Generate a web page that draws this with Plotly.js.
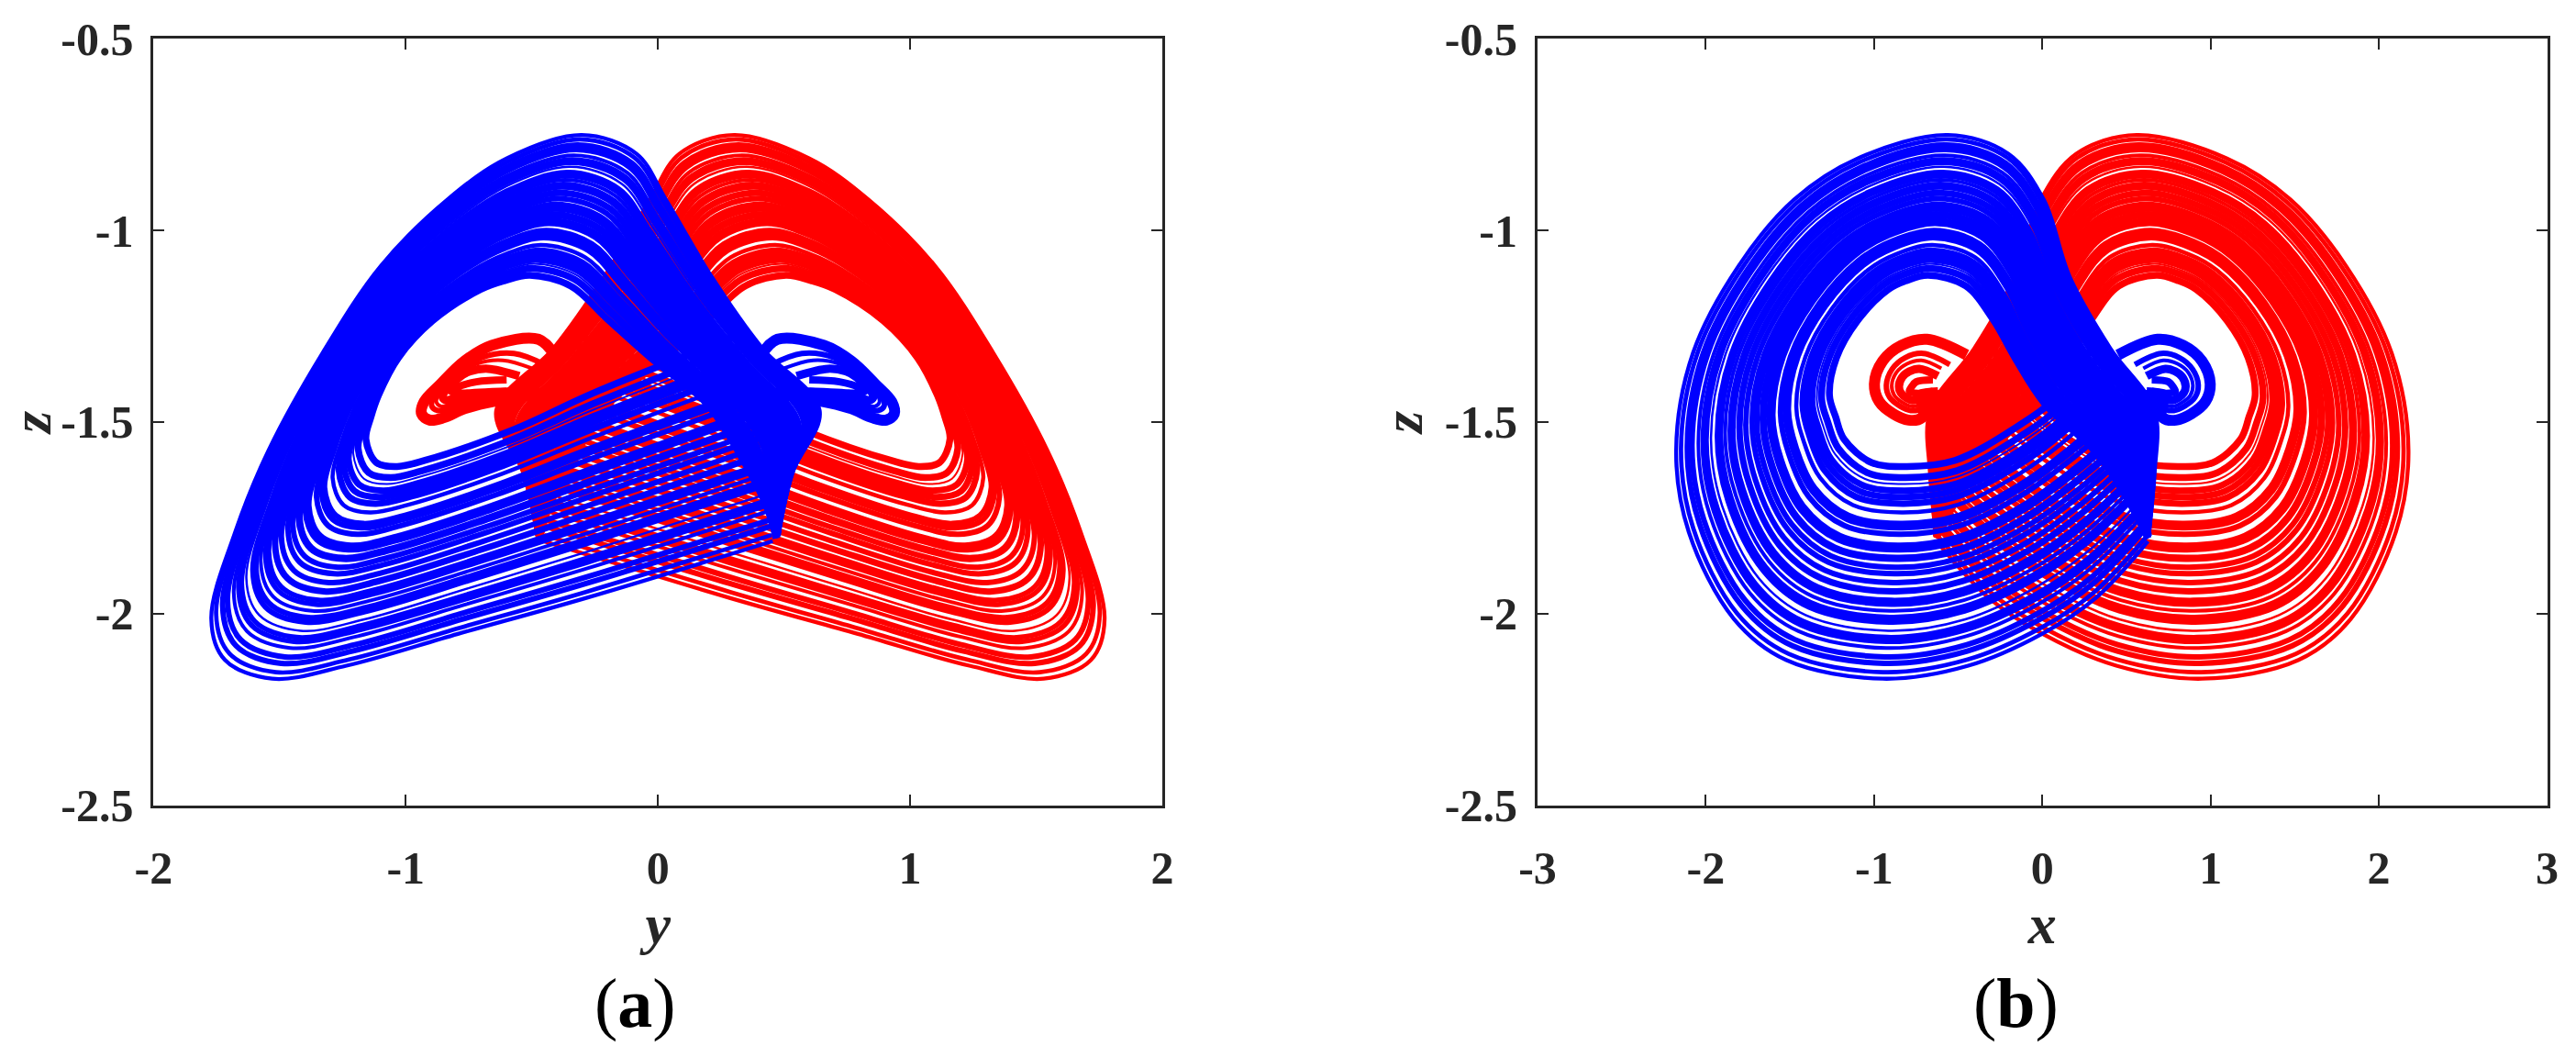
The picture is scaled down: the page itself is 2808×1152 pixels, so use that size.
<!DOCTYPE html>
<html><head><meta charset="utf-8">
<script src="https://cdn.plot.ly/plotly-3.0.1.min.js"></script>
<style>html,body{margin:0;padding:0;background:#fff}#chart{width:2808px;height:1152px}</style>
</head><body><div id="chart"></div>
<script>
// Blue wing strands: y (panel a abscissa), x (panel b abscissa), z (shared ordinate).
const wingY = [
[.455,-.284,-.793,-1.235,-1.530,-1.717,-1.771,-1.676,-1.544,-1.330,-1.098,-.834,-.600,-.302,-.085,.032,.212,.413,.641,.535,.477],
[.451,-.283,-.785,-1.225,-1.515,-1.698,-1.752,-1.660,-1.530,-1.321,-1.092,-.830,-.600,-.308,-.093,.025,.204,.406,.631,.532,.477],
[.446,-.282,-.777,-1.212,-1.494,-1.673,-1.726,-1.638,-1.512,-1.308,-1.083,-.824,-.601,-.317,-.104,.015,.195,.397,.618,.527,.476],
[.442,-.281,-.769,-1.202,-1.479,-1.655,-1.707,-1.621,-1.499,-1.299,-1.076,-.820,-.601,-.323,-.112,.008,.187,.390,.608,.524,.476],
[.437,-.280,-.761,-1.190,-1.458,-1.630,-1.682,-1.599,-1.481,-1.287,-1.069,-.815,-.601,-.332,-.122,-.002,.178,.381,.596,.520,.476],
[.433,-.279,-.753,-1.180,-1.443,-1.612,-1.663,-1.582,-1.467,-1.277,-1.062,-.811,-.602,-.338,-.130,-.009,.170,.374,.586,.517,.476],
[.431,-.279,-.749,-1.174,-1.433,-1.599,-1.651,-1.571,-1.459,-1.271,-1.058,-.808,-.601,-.343,-.136,-.013,.166,.369,.579,.515,.475],
[.427,-.278,-.743,-1.164,-1.417,-1.581,-1.632,-1.554,-1.445,-1.262,-1.052,-.804,-.602,-.349,-.144,-.021,.158,.363,.570,.511,.475],
[.422,-.277,-.733,-1.151,-1.397,-1.556,-1.606,-1.532,-1.427,-1.250,-1.044,-.799,-.601,-.358,-.155,-.030,.149,.353,.557,.507,.475],
[.419,-.276,-.729,-1.144,-1.387,-1.543,-1.594,-1.521,-1.418,-1.243,-1.039,-.796,-.602,-.361,-.160,-.035,.144,.349,.550,.505,.475],
[.416,-.275,-.722,-1.135,-1.371,-1.525,-1.575,-1.504,-1.404,-1.234,-1.033,-.792,-.602,-.368,-.168,-.042,.137,.342,.541,.502,.474],
[.412,-.275,-.715,-1.125,-1.356,-1.506,-1.556,-1.488,-1.391,-1.225,-1.027,-.788,-.602,-.374,-.176,-.049,.129,.335,.531,.499,.474],
[.409,-.274,-.710,-1.118,-1.346,-1.494,-1.543,-1.477,-1.382,-1.219,-1.022,-.785,-.602,-.379,-.182,-.054,.124,.331,.524,.496,.474],
[.404,-.273,-.701,-1.106,-1.325,-1.469,-1.518,-1.454,-1.364,-1.206,-1.014,-.780,-.603,-.387,-.192,-.063,.115,.322,.512,.492,.474],
[.399,-.272,-.692,-1.093,-1.305,-1.444,-1.493,-1.432,-1.346,-1.194,-1.006,-.774,-.603,-.396,-.203,-.073,.105,.312,.499,.488,.473],
[.394,-.271,-.683,-1.080,-1.285,-1.420,-1.467,-1.410,-1.328,-1.182,-.997,-.769,-.604,-.404,-.214,-.082,.095,.303,.486,.484,.473],
[.390,-.270,-.676,-1.070,-1.269,-1.401,-1.448,-1.393,-1.315,-1.172,-.991,-.765,-.603,-.411,-.222,-.089,.088,.296,.476,.480,.473],
[.385,-.269,-.667,-1.057,-1.249,-1.376,-1.423,-1.371,-1.297,-1.160,-.982,-.759,-.604,-.419,-.233,-.099,.078,.287,.463,.476,.473],
[.380,-.268,-.658,-1.044,-1.228,-1.352,-1.398,-1.349,-1.279,-1.148,-.974,-.754,-.604,-.427,-.243,-.108,.069,.278,.450,.472,.472],
[.378,-.267,-.653,-1.038,-1.218,-1.339,-1.385,-1.338,-1.269,-1.141,-.970,-.751,-.604,-.432,-.249,-.113,.064,.274,.444,.470,.472],
[.372,-.266,-.642,-1.023,-1.193,-1.308,-1.354,-1.310,-1.247,-1.126,-.960,-.745,-.604,-.442,-.262,-.125,.052,.262,.428,.464,.472],
[.368,-.265,-.634,-1.013,-1.177,-1.290,-1.335,-1.293,-1.234,-1.117,-.953,-.741,-.605,-.449,-.270,-.132,.045,.255,.418,.461,.471],
[.365,-.265,-.630,-1.006,-1.167,-1.277,-1.322,-1.282,-1.225,-1.111,-.948,-.738,-.605,-.453,-.276,-.137,.040,.251,.411,.459,.471],
[.359,-.263,-.618,-.990,-1.142,-1.246,-1.290,-1.255,-1.202,-1.095,-.938,-.731,-.605,-.464,-.289,-.148,.028,.239,.395,.454,.471],
[.354,-.262,-.610,-.977,-1.121,-1.222,-1.265,-1.232,-1.184,-1.083,-.930,-.726,-.605,-.472,-.300,-.158,.018,.230,.382,.449,.471],
[.350,-.261,-.602,-.967,-1.106,-1.203,-1.246,-1.216,-1.170,-1.073,-.924,-.722,-.606,-.479,-.308,-.165,.011,.223,.373,.446,.470],
[.346,-.260,-.596,-.958,-1.090,-1.184,-1.227,-1.199,-1.158,-1.064,-.917,-.718,-.606,-.485,-.316,-.172,.003,.217,.363,.443,.470],
[.343,-.260,-.588,-.949,-1.075,-1.166,-1.208,-1.183,-1.144,-1.055,-.911,-.714,-.606,-.492,-.324,-.179,-.004,.210,.353,.440,.470],
[.339,-.259,-.582,-.939,-1.060,-1.147,-1.189,-1.166,-1.131,-1.046,-.905,-.709,-.607,-.498,-.332,-.186,-.011,.203,.344,.436,.470],
[.333,-.258,-.570,-.923,-1.034,-1.116,-1.158,-1.138,-1.108,-1.030,-.894,-.703,-.607,-.508,-.346,-.198,-.023,.192,.327,.431,.469]
];
const wingX = [
[.628,.318,-.002,-.440,-.949,-1.523,-1.833,-2.101,-2.176,-2.076,-1.804,-1.474,-1.097,-.561,-.201,.009,.162,.403,.666,.668,.629],
[.627,.311,-.007,-.444,-.944,-1.507,-1.813,-2.074,-2.147,-2.050,-1.782,-1.457,-1.088,-.565,-.208,.000,.152,.391,.655,.663,.629],
[.624,.303,-.014,-.446,-.938,-1.486,-1.786,-2.038,-2.110,-2.015,-1.753,-1.434,-1.076,-.570,-.219,-.013,.139,.375,.642,.658,.629],
[.623,.296,-.019,-.448,-.934,-1.470,-1.765,-2.011,-2.082,-1.988,-1.731,-1.416,-1.067,-.573,-.227,-.022,.129,.363,.631,.653,.629],
[.620,.288,-.026,-.452,-.928,-1.449,-1.739,-1.975,-2.044,-1.953,-1.702,-1.393,-1.055,-.578,-.237,-.035,.116,.347,.618,.648,.629],
[.618,.281,-.032,-.454,-.924,-1.434,-1.718,-1.949,-2.016,-1.927,-1.680,-1.377,-1.047,-.582,-.245,-.044,.106,.334,.607,.644,.629],
[.617,.277,-.035,-.456,-.921,-1.423,-1.705,-1.930,-1.997,-1.909,-1.666,-1.365,-1.040,-.584,-.250,-.050,.099,.326,.601,.641,.629],
[.615,.270,-.041,-.458,-.916,-1.407,-1.685,-1.903,-1.969,-1.883,-1.644,-1.347,-1.031,-.588,-.258,-.059,.089,.314,.590,.637,.629],
[.613,.262,-.048,-.462,-.910,-1.387,-1.658,-1.867,-1.931,-1.848,-1.615,-1.324,-1.019,-.593,-.269,-.072,.076,.298,.577,.631,.629],
[.612,.258,-.051,-.464,-.907,-1.376,-1.645,-1.849,-1.913,-1.830,-1.600,-1.313,-1.014,-.595,-.274,-.078,.069,.290,.570,.628,.629],
[.610,.252,-.057,-.466,-.903,-1.360,-1.624,-1.822,-1.885,-1.804,-1.579,-1.295,-1.004,-.599,-.282,-.087,.059,.278,.560,.624,.629],
[.608,.244,-.062,-.468,-.899,-1.345,-1.604,-1.795,-1.856,-1.777,-1.557,-1.278,-.996,-.602,-.290,-.097,.050,.266,.549,.620,.629],
[.607,.240,-.066,-.470,-.896,-1.334,-1.590,-1.777,-1.838,-1.760,-1.543,-1.267,-.990,-.605,-.295,-.103,.043,.258,.542,.617,.629],
[.605,.232,-.073,-.472,-.890,-1.313,-1.563,-1.741,-1.800,-1.725,-1.514,-1.244,-.978,-.610,-.305,-.115,.030,.242,.529,.611,.629],
[.602,.223,-.079,-.476,-.884,-1.292,-1.537,-1.705,-1.762,-1.689,-1.484,-1.221,-.966,-.614,-.316,-.128,.017,.226,.515,.606,.629],
[.600,.214,-.086,-.480,-.878,-1.271,-1.510,-1.669,-1.725,-1.654,-1.455,-1.198,-.954,-.619,-.326,-.140,.003,.210,.501,.600,.629],
[.598,.208,-.092,-.482,-.873,-1.255,-1.489,-1.642,-1.697,-1.628,-1.434,-1.180,-.946,-.623,-.334,-.149,-.007,.197,.491,.596,.629],
[.596,.199,-.099,-.484,-.867,-1.235,-1.462,-1.606,-1.659,-1.593,-1.405,-1.157,-.934,-.628,-.345,-.162,-.020,.181,.477,.590,.629],
[.594,.191,-.107,-.488,-.861,-1.214,-1.435,-1.570,-1.622,-1.558,-1.375,-1.134,-.922,-.633,-.355,-.174,-.033,.165,.464,.584,.629],
[.592,.187,-.110,-.490,-.858,-1.203,-1.422,-1.553,-1.603,-1.540,-1.361,-1.122,-.915,-.635,-.360,-.180,-.040,.157,.457,.582,.629],
[.58,.176,-.119,-.494,-.851,-1.177,-1.388,-1.507,-1.556,-1.496,-1.325,-1.093,-.900,-.641,-.374,-.196,-.056,.137,.440,.575,.629],
[.56,.170,-.124,-.496,-.846,-1.161,-1.368,-1.481,-1.528,-1.470,-1.303,-1.077,-.891,-.645,-.381,-.205,-.066,.125,.430,.570,.629],
[.55,.165,-.127,-.498,-.843,-1.151,-1.354,-1.462,-1.509,-1.452,-1.289,-1.065,-.886,-.647,-.387,-.211,-.073,.117,.423,.567,.629],
[.51,.155,-.136,-.502,-.836,-1.125,-1.320,-1.417,-1.462,-1.408,-1.252,-1.036,-.870,-.653,-.400,-.227,-.089,.097,.406,.560,.629],
[.48,.146,-.143,-.504,-.830,-1.104,-1.293,-1.381,-1.424,-1.373,-1.223,-1.013,-.859,-.658,-.410,-.239,-.102,.081,.392,.555,.629],
[.45,.140,-.149,-.508,-.826,-1.088,-1.273,-1.354,-1.396,-1.347,-1.201,-.995,-.850,-.662,-.418,-.248,-.112,.068,.382,.551,.629],
[.43,.132,-.154,-.510,-.821,-1.072,-1.253,-1.327,-1.368,-1.320,-1.180,-.978,-.841,-.665,-.426,-.258,-.122,.056,.371,.546,.629],
[.41,.126,-.159,-.512,-.817,-1.056,-1.233,-1.301,-1.340,-1.294,-1.158,-.961,-.831,-.669,-.434,-.267,-.132,.044,.361,.542,.629],
[.38,.120,-.165,-.514,-.812,-1.041,-1.212,-1.273,-1.312,-1.267,-1.135,-.944,-.823,-.673,-.442,-.276,-.142,.032,.351,.538,.629],
[.34,.109,-.174,-.518,-.805,-1.014,-1.178,-1.228,-1.265,-1.224,-1.099,-.915,-.807,-.679,-.455,-.292,-.158,.012,.334,.531,.629]
];
const wingZ = [
[-1.811,-1.959,-2.053,-2.136,-2.170,-2.121,-2.014,-1.787,-1.574,-1.320,-1.092,-.919,-.812,-.751,-.800,-.920,-1.120,-1.307,-1.469,-1.630,-1.790],
[-1.795,-1.943,-2.037,-2.120,-2.153,-2.105,-2.000,-1.778,-1.569,-1.321,-1.097,-.927,-.822,-.762,-.810,-.930,-1.127,-1.312,-1.473,-1.633,-1.791],
[-1.772,-1.921,-2.015,-2.098,-2.130,-2.084,-1.980,-1.765,-1.563,-1.321,-1.103,-.936,-.835,-.777,-.824,-.943,-1.136,-1.318,-1.478,-1.637,-1.791],
[-1.756,-1.904,-1.998,-2.081,-2.113,-2.068,-1.966,-1.756,-1.559,-1.321,-1.107,-.944,-.845,-.789,-.835,-.952,-1.142,-1.322,-1.481,-1.639,-1.792],
[-1.733,-1.882,-1.976,-2.059,-2.090,-2.046,-1.946,-1.744,-1.553,-1.322,-1.113,-.953,-.858,-.804,-.849,-.965,-1.151,-1.328,-1.486,-1.643,-1.792],
[-1.717,-1.866,-1.960,-2.042,-2.073,-2.030,-1.932,-1.734,-1.548,-1.322,-1.118,-.961,-.868,-.815,-.860,-.975,-1.158,-1.333,-1.490,-1.646,-1.793],
[-1.705,-1.855,-1.949,-2.031,-2.062,-2.020,-1.922,-1.728,-1.545,-1.323,-1.121,-.965,-.875,-.823,-.867,-.981,-1.162,-1.336,-1.492,-1.648,-1.793],
[-1.689,-1.838,-1.932,-2.015,-2.045,-2.004,-1.908,-1.719,-1.541,-1.323,-1.125,-.973,-.885,-.834,-.878,-.991,-1.169,-1.340,-1.496,-1.651,-1.793],
[-1.666,-1.816,-1.910,-1.993,-2.022,-1.983,-1.888,-1.707,-1.535,-1.324,-1.131,-.982,-.898,-.849,-.892,-1.004,-1.178,-1.346,-1.501,-1.654,-1.794],
[-1.655,-1.805,-1.899,-1.982,-2.010,-1.972,-1.879,-1.700,-1.532,-1.324,-1.134,-.987,-.904,-.857,-.899,-1.010,-1.182,-1.349,-1.503,-1.656,-1.794],
[-1.638,-1.789,-1.883,-1.965,-1.993,-1.956,-1.864,-1.691,-1.528,-1.324,-1.138,-.994,-.914,-.868,-.910,-1.020,-1.189,-1.353,-1.507,-1.659,-1.794],
[-1.622,-1.772,-1.866,-1.948,-1.976,-1.940,-1.850,-1.682,-1.523,-1.325,-1.143,-1.002,-.924,-.879,-.921,-1.030,-1.196,-1.358,-1.510,-1.662,-1.795],
[-1.611,-1.761,-1.855,-1.937,-1.965,-1.930,-1.840,-1.676,-1.520,-1.325,-1.146,-1.007,-.931,-.887,-.928,-1.036,-1.200,-1.361,-1.513,-1.664,-1.795],
[-1.588,-1.739,-1.833,-1.915,-1.942,-1.908,-1.821,-1.663,-1.514,-1.325,-1.152,-1.016,-.944,-.902,-.942,-1.049,-1.209,-1.367,-1.518,-1.668,-1.796],
[-1.566,-1.717,-1.811,-1.893,-1.919,-1.887,-1.801,-1.651,-1.508,-1.326,-1.158,-1.026,-.957,-.917,-.956,-1.062,-1.218,-1.373,-1.522,-1.671,-1.796],
[-1.544,-1.695,-1.789,-1.871,-1.896,-1.866,-1.782,-1.639,-1.502,-1.326,-1.164,-1.036,-.970,-.932,-.970,-1.075,-1.227,-1.379,-1.527,-1.675,-1.797],
[-1.527,-1.678,-1.772,-1.854,-1.879,-1.850,-1.767,-1.629,-1.498,-1.327,-1.168,-1.043,-.980,-.944,-.981,-1.084,-1.233,-1.383,-1.531,-1.678,-1.797],
[-1.505,-1.656,-1.750,-1.832,-1.856,-1.829,-1.748,-1.617,-1.492,-1.327,-1.174,-1.053,-.993,-.959,-.995,-1.097,-1.242,-1.389,-1.536,-1.682,-1.798],
[-1.482,-1.634,-1.728,-1.810,-1.833,-1.807,-1.729,-1.605,-1.486,-1.328,-1.180,-1.062,-1.006,-.974,-1.010,-1.110,-1.251,-1.395,-1.541,-1.685,-1.798],
[-1.471,-1.623,-1.717,-1.799,-1.822,-1.797,-1.719,-1.598,-1.483,-1.328,-1.183,-1.067,-1.013,-.981,-1.017,-1.117,-1.256,-1.398,-1.543,-1.687,-1.799],
[-1.443,-1.596,-1.690,-1.771,-1.793,-1.770,-1.695,-1.583,-1.476,-1.329,-1.190,-1.079,-1.029,-1.000,-1.035,-1.133,-1.267,-1.405,-1.549,-1.692,-1.799],
[-1.426,-1.579,-1.673,-1.755,-1.776,-1.754,-1.680,-1.574,-1.471,-1.329,-1.195,-1.086,-1.039,-1.012,-1.045,-1.142,-1.273,-1.410,-1.553,-1.695,-1.800],
[-1.415,-1.568,-1.662,-1.744,-1.765,-1.744,-1.671,-1.568,-1.468,-1.329,-1.198,-1.091,-1.046,-1.019,-1.052,-1.149,-1.278,-1.413,-1.555,-1.697,-1.800],
[-1.387,-1.541,-1.635,-1.716,-1.736,-1.717,-1.646,-1.552,-1.461,-1.330,-1.205,-1.103,-1.062,-1.038,-1.070,-1.165,-1.289,-1.420,-1.561,-1.701,-1.801],
[-1.365,-1.519,-1.613,-1.694,-1.713,-1.696,-1.627,-1.540,-1.455,-1.331,-1.211,-1.113,-1.075,-1.053,-1.084,-1.178,-1.298,-1.426,-1.566,-1.705,-1.801],
[-1.348,-1.502,-1.596,-1.677,-1.696,-1.680,-1.612,-1.530,-1.451,-1.331,-1.215,-1.120,-1.085,-1.065,-1.095,-1.187,-1.304,-1.430,-1.570,-1.708,-1.802],
[-1.332,-1.486,-1.580,-1.661,-1.679,-1.664,-1.598,-1.521,-1.446,-1.331,-1.220,-1.128,-1.095,-1.076,-1.106,-1.197,-1.311,-1.435,-1.573,-1.711,-1.802],
[-1.315,-1.469,-1.563,-1.644,-1.662,-1.648,-1.583,-1.512,-1.442,-1.332,-1.224,-1.135,-1.105,-1.087,-1.116,-1.207,-1.318,-1.439,-1.577,-1.714,-1.803],
[-1.298,-1.453,-1.547,-1.628,-1.645,-1.632,-1.569,-1.503,-1.437,-1.332,-1.229,-1.142,-1.115,-1.099,-1.127,-1.216,-1.324,-1.444,-1.581,-1.716,-1.803],
[-1.270,-1.425,-1.519,-1.600,-1.616,-1.606,-1.545,-1.487,-1.430,-1.333,-1.236,-1.154,-1.131,-1.117,-1.145,-1.233,-1.336,-1.451,-1.587,-1.721,-1.804]
];
// Small "ear" spirals of the blue wing.
const earY = [
[.41,.474,.659,.767,.862,.927,.937,.905,.851,.767,.681,.42],
[.45,.571,.701,.776,.844,.889,.897,.874,.836,.776,.716,.45],
[.50,.615,.72,.781,.836,.872,.878,.86,.829,.781,.733,.50],
[.55,.674,.746,.787,.824,.849,.853,.84,.82,.787,.754,.55],
[.60,.72,.80,.82,.75,.60]
];
const earX = [
[.45,.685,.837,.949,.998,.969,.885,.795,.717,.698,.671,.55],
[.55,.707,.815,.893,.927,.907,.848,.782,.73,.717,.699,.58],
[.60,.718,.804,.868,.895,.879,.831,.78,.736,.725,.71,.60],
[.62,.731,.79,.833,.852,.841,.808,.772,.743,.736,.724,.62],
[.65,.75,.78,.79,.74,.65]
];
const earZ = [
[-1.325,-1.284,-1.30,-1.341,-1.401,-1.447,-1.479,-1.495,-1.489,-1.465,-1.45,-1.42],
[-1.35,-1.321,-1.332,-1.362,-1.404,-1.436,-1.458,-1.47,-1.466,-1.448,-1.439,-1.42],
[-1.36,-1.339,-1.348,-1.371,-1.405,-1.431,-1.449,-1.459,-1.455,-1.441,-1.433,-1.42],
[-1.38,-1.361,-1.368,-1.383,-1.407,-1.424,-1.437,-1.443,-1.441,-1.431,-1.426,-1.42],
[-1.39,-1.395,-1.41,-1.42,-1.425,-1.42]
];
const wingWidth = [4.3,4.7,6,6,4,5.5,5.5,2.5,6,6,4,5.5,5.5,7,6,6,6,8,6.5,6.5,6,6,6,4.5,7,7,7,2,7.5,7.5];
const earWidth = [12,6,4,9,8];

const yTickVals = [-0.5,-1,-1.5,-2,-2.5];
const yTickText = ['-0.5','-1','-1.5','-2','-2.5'];
const aTickVals = [-2,-1,0,1,2];
const aTickText = ['-2','-1','0','1','2'];
const bTickVals = [-3,-2,-1,0,1,2,3];
const bTickText = ['-3','-2','-1','0','1','2','3'];

const RED = '#ff0000', BLUE = '#0000ff', INK = '#262626';
const negate = a => a.map(v => -v);

function strands(hor, ver, widths, sign, color, xa, ya) {
  return hor.map((h, i) => ({
    x: sign < 0 ? negate(h) : h, y: ver[i], xaxis: xa, yaxis: ya,
    mode: 'lines', type: 'scatter', hoverinfo: 'skip', showlegend: false,
    line: {color, width: widths[i], shape: 'spline', smoothing: 1, simplify: false}
  }));
}
const data = [
  ...strands(wingY, wingZ, wingWidth, -1, RED, 'x', 'y'),
  ...strands(earY, earZ, earWidth, -1, RED, 'x', 'y'),
  ...strands(wingY, wingZ, wingWidth, 1, BLUE, 'x', 'y'),
  ...strands(earY, earZ, earWidth, 1, BLUE, 'x', 'y'),
  ...strands(wingX, wingZ, wingWidth, -1, RED, 'x2', 'y2'),
  ...strands(earX, earZ, earWidth, -1, RED, 'x2', 'y2'),
  ...strands(wingX, wingZ, wingWidth, 1, BLUE, 'x2', 'y2'),
  ...strands(earX, earZ, earWidth, 1, BLUE, 'x2', 'y2')
];

const W = 2808, H = 1152;
const tickFont = {family: '"Liberation Serif", serif', size: 50, color: INK, weight: 700};
const titleFont = {family: '"Liberation Serif", serif', size: 62, color: INK, weight: 700, style: 'italic'};
function axis(dom, range, vals, text, title, standoff, extra) {
  return Object.assign({
    domain: dom, range, tickmode: 'array', tickvals: vals, ticktext: text,
    ticks: 'inside', ticklen: 12, tickwidth: 2, tickcolor: INK,
    showline: true, linecolor: INK, linewidth: 3, mirror: 'ticks',
    showgrid: false, zeroline: false, tickfont: tickFont,
    title: {text: title, font: titleFont, standoff}
  }, extra);
}
const yDom = [1 - 877.5 / H, 1 - 42.4 / H];
const layout = {
  width: W, height: H, showlegend: false, paper_bgcolor: '#fff', plot_bgcolor: '#fff',
  margin: {l: 0, r: 0, t: 0, b: 0},
  xaxis: axis([167.4 / W, 1267 / W], [-2, 2], aTickVals, aTickText, 'y', 5, {anchor: 'y', ticklabelstandoff: 22}),
  yaxis: axis(yDom, [-2.5, -0.5], yTickVals, yTickText, 'z', 5, {anchor: 'x', ticklabelstandoff: 9}),
  xaxis2: axis([1676 / W, 2776.5 / W], [-3, 3], bTickVals, bTickText, 'x', 5, {anchor: 'y2', ticklabelstandoff: 22}),
  yaxis2: axis(yDom, [-2.5, -0.5], yTickVals, yTickText, 'z', 5, {anchor: 'x2', ticklabelstandoff: 9}),
  annotations: [
    {text: '(<b>a</b>)', xref: 'paper', yref: 'paper', x: 692 / W, y: 1 - 1093 / H, xanchor: 'center', yanchor: 'middle', showarrow: false,
     font: {family: '"Liberation Serif", serif', size: 76, color: '#000'}},
    {text: '(<b>b</b>)', xref: 'paper', yref: 'paper', x: 2197 / W, y: 1 - 1093 / H, xanchor: 'center', yanchor: 'middle', showarrow: false,
     font: {family: '"Liberation Serif", serif', size: 76, color: '#000'}}
  ]
};
Plotly.newPlot('chart', data, layout, {displayModeBar: false, staticPlot: true});
</script></body></html>
